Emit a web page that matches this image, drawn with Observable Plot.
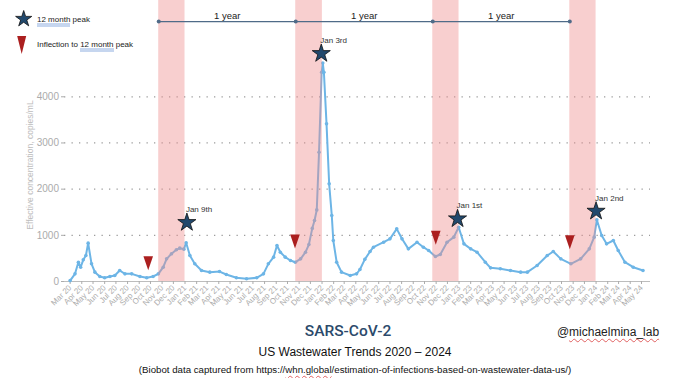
<!DOCTYPE html>
<html><head><meta charset="utf-8">
<script src="https://cdn.jsdelivr.net/npm/d3@7"></script>
<script src="https://cdn.jsdelivr.net/npm/@observablehq/plot@0.6"></script>
<style>
body{margin:0;background:#fff;font-family:"Liberation Sans",Arial,sans-serif;}
#wrap{position:relative;width:676px;height:378px;overflow:hidden;background:#fff;}
#wrap svg.plot{position:absolute;left:0;top:0;}
.abs{position:absolute;white-space:nowrap;}
.c{transform:translate(-50%,-50%);}
.lg{font-size:8px;color:#222;transform:translateY(-50%);}
.blue{border-bottom:3px double #8eaee0;padding-bottom:0;}
.wavy{text-decoration:underline wavy #e06060;text-decoration-thickness:0.6px;text-underline-offset:2px;}
</style></head><body><div id="wrap"></div>
<script>
// ---- data ----
const dates = ["2020-03-01","2020-03-14","2020-03-23","2020-03-29","2020-04-05","2020-04-12","2020-04-18","2020-04-27","2020-05-06","2020-05-19","2020-06-01","2020-06-15","2020-06-28","2020-07-11","2020-07-25","2020-08-12","2020-09-03","2020-09-21","2020-10-08","2020-10-22","2020-11-04","2020-11-13","2020-11-26","2020-12-09","2020-12-18","2020-12-29",
"2021-01-04","2021-01-14","2021-01-27","2021-02-14","2021-03-08","2021-04-03","2021-04-21","2021-05-18","2021-06-14","2021-07-11","2021-07-29","2021-08-11","2021-08-25","2021-09-03","2021-09-12","2021-09-25","2021-10-09","2021-10-22","2021-11-05","2021-11-18","2021-11-27","2021-12-06","2021-12-12","2021-12-18","2021-12-24","2021-12-31",
"2022-01-03","2022-01-06","2022-01-13","2022-01-20","2022-01-27","2022-01-31","2022-02-09","2022-02-22","2022-03-17","2022-04-03","2022-04-12","2022-04-25","2022-05-09","2022-05-18","2022-06-14","2022-07-01","2022-07-19","2022-08-02","2022-08-19","2022-09-11","2022-09-28","2022-10-12","2022-10-30","2022-11-12","2022-11-30","2022-12-18","2022-12-31",
"2023-01-14","2023-02-01","2023-02-18","2023-03-12","2023-03-26","2023-04-21","2023-05-18","2023-06-14","2023-07-02","2023-07-28","2023-08-24","2023-09-09","2023-09-29","2023-10-26","2023-11-21","2023-12-14","2023-12-27",
"2024-01-03","2024-01-16","2024-01-29","2024-02-16","2024-02-29","2024-03-18","2024-04-09","2024-05-05"];
const values = [20,166,418,310,470,563,830,383,202,108,80,108,130,238,166,166,108,80,108,166,310,490,600,686,722,700,
840,563,383,238,202,215,152,80,58,80,166,383,527,780,635,527,455,418,490,635,800,1150,1320,1550,2800,4530,
4730,4530,3414,2115,1430,888,418,202,130,166,260,480,650,743,851,924,1140,924,707,851,743,671,541,585,851,960,1176,
815,707,635,418,296,275,238,202,202,346,563,650,490,383,490,707,960,
1336,996,815,888,671,418,310,238];

const peakDates  = ["2021-01-06","2021-12-30","2022-12-28","2024-01-01"];
const peakValues = [1277,4936,1357,1522];
const peakLabels = ["Jan 9th","Jan 3rd","Jan 1st","Jan 2nd"];

const inflectionDates  = ["2020-09-25","2021-10-21","2022-10-31","2023-10-23"];
const inflectionValues = [396,866,946,851];

const bandStarts = ["2020-10-23","2021-10-23","2022-10-23","2023-10-23"];
const bandEnds   = ["2021-01-01","2022-01-02","2023-01-01","2024-01-01"];
const yearLabel  = "1 year";

const yTicks = [0,1000,2000,3000,4000];
const firstMonth = "2020-03-01", lastMonth = "2024-05-01";

// ---- build ----
const parse = d3.utcParse("%Y-%m-%d");
const series = dates.map((d,i)=>({date:parse(d), value:values[i]}));
const peaks = peakDates.map((d,i)=>({date:parse(d), value:peakValues[i], label:peakLabels[i]}));
const inflections = inflectionDates.map((d,i)=>({date:parse(d), value:inflectionValues[i]}));
const Y_TOP = 6085;      // value at the very top of the svg
const Y_ANN = 5629;      // level of the "1 year" ruler
const bands = bandStarts.map((d,i)=>({x1:parse(d), x2:parse(bandEnds[i]), y1:0, y2:Y_TOP}));
const yearPts = bandStarts.map(d=>({date:parse(d), y:Y_ANN}));
const yearLbls = bandStarts.slice(1).map((d,i)=>({date:new Date((parse(bandStarts[i]).getTime()+parse(d).getTime())/2), y:Y_ANN, label:yearLabel}));
const monthTicks = d3.utcMonth.range(parse(firstMonth), d3.utcDay.offset(parse(lastMonth),1));

const downTri = {draw(ctx){ctx.moveTo(-4.8,-7);ctx.lineTo(4.8,-7);ctx.lineTo(0,7);ctx.closePath();}};

const H = 318;
const chart = Plot.plot({
  width:676, height:H,
  marginLeft:64, marginRight:26, marginTop:0, marginBottom:H-281,
  x:{type:"utc", domain:[parse("2020-02-15"), parse("2024-05-25")]},
  y:{domain:[0,Y_TOP]},
  style:{fontFamily:"'Liberation Sans', Arial, sans-serif", background:"transparent", overflow:"visible"},
  marks:[
    Plot.gridY(yTicks.slice(1), {stroke:"#9c9c9c", strokeOpacity:1, strokeWidth:1.3, strokeDasharray:"1.3,6.2"}),
    Plot.ruleY([0], {stroke:"#bdbdbd", strokeWidth:1}),
    Plot.axisX({ticks:monthTicks, tickFormat:d3.utcFormat("%b %y"), tickRotate:-45, tickSize:3, tickPadding:2, fontSize:8, color:"#acacac", label:null}),
    Plot.axisY({ticks:yTicks, tickFormat:d3.format("d"), tickSize:3, tickPadding:2.5, fontSize:10, color:"#ababab", label:null}),
    Plot.line(series, {x:"date", y:"value", stroke:"#6db5e6", strokeWidth:2}),
    Plot.dot(series, {x:"date", y:"value", r:1.8, fill:"#6db5e6"}),
    Plot.rect(bands, {x1:"x1", x2:"x2", y1:"y1", y2:"y2", fill:"#ef8c8c", fillOpacity:0.42}),
    Plot.line(yearPts, {x:"date", y:"y", stroke:"#4f6b88", strokeWidth:1.3}),
    Plot.dot(yearPts, {x:"date", y:"y", r:2, fill:"#4f6b88"}),
    Plot.text(yearLbls, {x:"date", y:"y", text:"label", dy:-6, fontSize:9.5, fill:"#222"}),
    Plot.dot(inflections, {x:"date", y:"value", symbol:downTri, r:5, fill:"#ab1f1f"}),
    Plot.dot(peaks, {x:"date", y:"value", symbol:"star", r:5.7, fill:"#22496d", stroke:"#111", strokeWidth:0.8}),
    Plot.text(peaks, {x:"date", y:"value", text:"label", dy:-13, dx:-1, textAnchor:"start", fontSize:8, fill:"#333"})
  ]
});
const wrap = document.getElementById("wrap");
wrap.appendChild(chart);

// ---- legend & texts ----
const starPath = d3.symbol(d3.symbolStar, 81)();
const html = `
<svg class="abs" style="left:0;top:0" width="40" height="60">
  <path d="${starPath}" transform="translate(23.7,19)" fill="#22496d" stroke="#111" stroke-width="0.8"/>
  <path d="M-4.5,-9L4.5,-9L0,9Z" transform="translate(21.7,45)" fill="#ab1f1f"/>
</svg>
<div class="abs lg" style="left:37px;top:19px"><span class="blue">12 month</span> peak</div>
<div class="abs lg" style="left:37px;top:43.5px">Inflection to <span class="blue">12 month</span> peak</div>
<div class="abs" style="left:30px;top:165px;font-size:8.5px;color:#bdbdbd;transform:translate(-50%,-50%) rotate(-90deg)">Effective concentration, copies/mL</div>
<div class="abs c" style="left:348px;top:331px;font-family:Roboto,sans-serif;font-weight:500;font-size:15.5px;color:#2c4a6b">SARS-CoV-2</div>
<div class="abs c" style="left:608px;top:332px;font-size:12px;color:#222">@<span class="wavy">michaelmina_lab</span></div>
<div class="abs c" style="left:355px;top:352px;font-size:12px;color:#111">US Wastewater Trends 2020 – 2024</div>
<div class="abs c" style="left:355px;top:369px;font-size:9.7px;color:#111">(Biobot data captured from https://<span class="wavy">whn.global</span>/estimation-of-infections-based-on-wastewater-data-us/)</div>
`;
wrap.insertAdjacentHTML("beforeend", html);
</script>
</body></html>
